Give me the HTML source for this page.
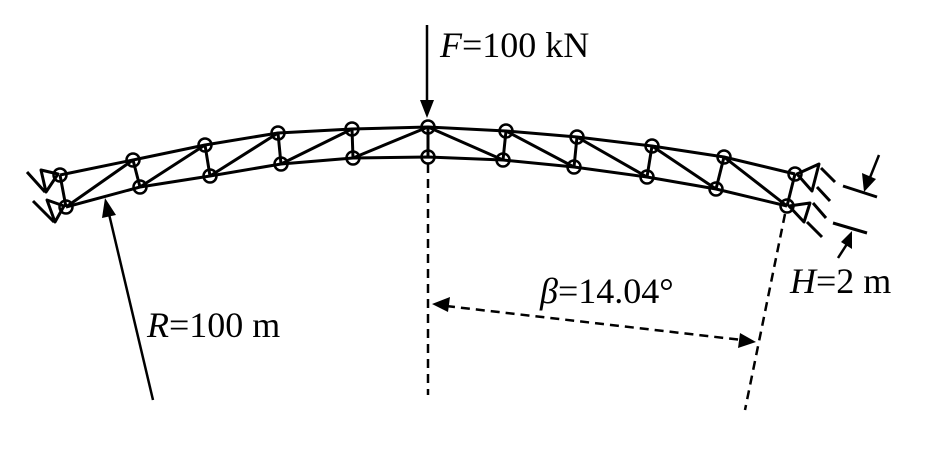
<!DOCTYPE html>
<html><head><meta charset="utf-8"><style>
html,body{margin:0;padding:0;background:#fff;}
svg{display:block;}
text{font-family:"Liberation Serif","Times New Roman",serif;font-size:36px;fill:#000;}
</style></head><body>
<svg width="947" height="452" viewBox="0 0 947 452" xmlns="http://www.w3.org/2000/svg">
<g stroke="#000" stroke-width="3" fill="none" stroke-linejoin="round">
<!-- chords -->
<polyline points="60,175 133,160 205,145 278,133 352,129 428,127 506,131 577,137 652,146 724,157 795,174"/>
<polyline points="66,207 140,187 210,176 281,164 353,158 428,157 503,160 574,167 647,177 716,189 787,206"/>
<!-- verticals -->
<path d="M60,175L66,207 M133,160L140,187 M205,145L210,176 M278,133L281,164 M352,129L353,158 M428,127L428,157 M506,131L503,160 M577,137L574,167 M652,146L647,177 M724,157L716,189 M795,174L787,206"/>
<!-- diagonals -->
<path d="M66,207L133,160 M140,187L205,145 M210,176L278,133 M281,164L352,129 M353,158L428,127 M428,127L503,160 M506,131L574,167 M577,137L647,177 M652,146L716,189 M724,157L787,206"/>
<!-- left supports -->
<path d="M58,174L41,170L46,192Z M27,172L45,192"/>
<path d="M64,206L47,200L55,222Z M33,201L54,222"/>
<!-- right supports -->
<path d="M797,174L819,164L812,191Z M821,168L835,182 M817,187L830,201"/>
<path d="M789,206L810,203L804,222Z M813,203L826,218 M807,222L822,237"/>
<!-- H dim lines -->
<path d="M843,186L877,197 M833,223L867,233"/>
</g>
<g stroke="#000" stroke-width="2.5" fill="none">
<circle cx="60" cy="175" r="6.5"/><circle cx="133" cy="160" r="6.5"/><circle cx="205" cy="145" r="6.5"/><circle cx="278" cy="133" r="6.5"/><circle cx="352" cy="129" r="6.5"/><circle cx="428" cy="127" r="6.5"/><circle cx="506" cy="131" r="6.5"/><circle cx="577" cy="137" r="6.5"/><circle cx="652" cy="146" r="6.5"/><circle cx="724" cy="157" r="6.5"/><circle cx="795" cy="174" r="6.5"/>
<circle cx="66" cy="207" r="6.5"/><circle cx="140" cy="187" r="6.5"/><circle cx="210" cy="176" r="6.5"/><circle cx="281" cy="164" r="6.5"/><circle cx="353" cy="158" r="6.5"/><circle cx="428" cy="157" r="6.5"/><circle cx="503" cy="160" r="6.5"/><circle cx="574" cy="167" r="6.5"/><circle cx="647" cy="177" r="6.5"/><circle cx="716" cy="189" r="6.5"/><circle cx="787" cy="206" r="6.5"/>
</g>
<!-- dashed lines -->
<g stroke="#000" stroke-width="2.5" fill="none" stroke-dasharray="9,6">
<path d="M428,164L428,395"/>
<path d="M785,214L745,410"/>
<path d="M446,306L742,340"/>
</g>
<!-- solid arrows -->
<g stroke="#000" stroke-width="2.5" fill="none">
<path d="M427,25L427,104"/>
<path d="M153,400L109,214"/>
<path d="M879,155L869,180"/>
<path d="M838,258L847,244"/>
</g>
<g fill="#000" stroke="none">
<polygon points="427,118 420,100 434,100"/>
<polygon points="105,198 102,218 116,215"/>
<polygon points="864,192 862,173 876,179"/>
<polygon points="852,231 852,249 841,242"/>
<polygon points="432,304 450,297 448,312"/>
<polygon points="756,342 738,348 740,333"/>
</g>
<text x="440" y="57"><tspan font-style="italic">F</tspan>=100 kN</text>
<text x="147" y="337"><tspan font-style="italic">R</tspan>=100 m</text>
<text x="540" y="303"><tspan font-style="italic">β</tspan>=14.04°</text>
<text x="790" y="293"><tspan font-style="italic">H</tspan>=2 m</text>
</svg>
</body></html>
